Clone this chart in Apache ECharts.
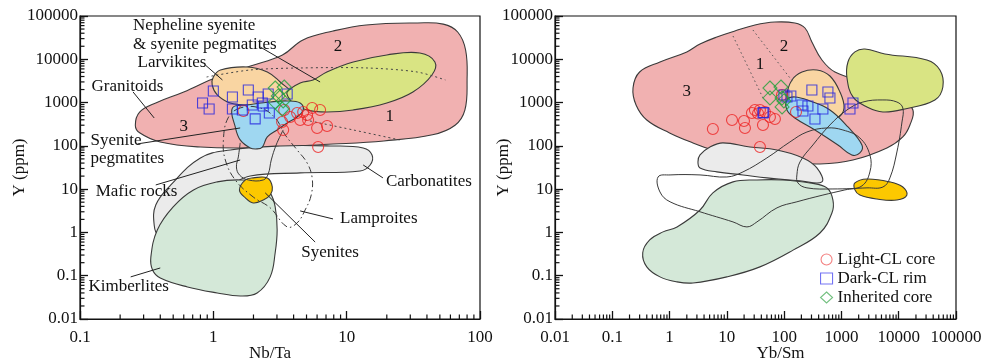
<!DOCTYPE html>
<html><head><meta charset="utf-8">
<script src="https://cdn.jsdelivr.net/npm/echarts@6/dist/echarts.min.js"></script>
<style>html,body{margin:0;padding:0;background:#fff}#c{width:998px;height:363px}</style>
</head><body><div id="c"></div>
<script>
// ---------------- Left panel (Nb/Ta vs Y) ----------------
const lightCoreL = [[1.68,640],[3.40,675],[3.77,465],[3.28,356],[4.25,575],[4.72,607],[5.51,750],[6.32,675],[4.48,397],[5.14,397],[5.05,518],[6.0,259],[7.13,288],[3.34,233],[6.11,94]];
const darkRimL = [[1.0,1850],[0.83,980],[0.93,710],[1.39,1350],[1.39,710],[1.83,1950],[1.65,675],[1.96,880],[2.17,1350],[2.37,835],[2.58,1580],[2.63,575],[2.06,420],[3.58,1580],[2.33,980]];
const inheritedL = [[2.91,2170],[3.40,2290],[3.07,1420],[2.91,1030],[3.34,1090],[3.28,710]];

const granitoidFieldL = [[0.26,300],[0.28,600],[0.37,980],[0.60,1760],[1.07,3900],[1.9,7000],[3.3,12600],[4.7,28000],[7.9,45000],[14,62000],[34,69000],[53,65000],[68,42700],[78,16400],[80,3300],[77,670],[65,300],[44,180],[19,130],[7.9,110],[1.9,90],[0.8,94],[0.40,123],[0.28,200]];
const carbonatiteFieldL = [[0.80,52.6],[1.34,80.4],[3.17,99.5],[7.5,99.5],[13.3,89.5],[15.5,61.6],[15.0,36.2],[12.6,26.3],[4.48,23.7],[1.89,20.2],[1.34,12.5],[0.80,5.6],[0.52,2.16],[0.44,0.97],[0.39,0.83],[0.36,1.49],[0.37,4.3],[0.48,12.5]];
const kimberliteFieldL = [[1.59,16.3],[1.07,14.7],[0.71,9.6],[0.50,3.9],[0.38,1.14],[0.34,0.27],[0.35,0.136],[0.40,0.089],[0.64,0.055],[1.07,0.040],[1.59,0.034],[2.13,0.040],[2.67,0.094],[2.91,0.34],[3.01,1.14],[2.91,3.9],[2.67,8.2],[2.25,13.9]];
const syeniteFieldL = [[1.57,9.6],[1.74,16.3],[1.99,18.2],[2.54,18.2],[2.77,11.2],[2.67,7.3],[2.37,5.6],[1.99,4.8],[1.74,6.3]];
const pegmatiteFieldL = [[1.39,750],[1.80,880],[2.67,1030],[3.58,1090],[4.48,980],[4.72,675],[4.25,465],[3.58,338],[3.01,233],[2.54,161],[2.33,94],[2.13,85],[1.89,89.5],[1.59,137],[1.46,273]];
const larvikiteFieldL = [[1.0,3900],[1.13,5660],[1.80,6640],[2.54,5090],[3.17,2990],[3.97,1500],[3.58,980],[1.99,880],[1.34,980],[1.07,1500],[0.98,2550]];
const nephelineFieldL = [[3.58,1760],[4.48,2840],[5.6,3330],[7.1,5090],[11.2,8660],[20,12600],[35.4,14000],[45.9,8660],[43.6,4340],[31.4,1760],[20,980],[11.2,675],[7.1,607],[5.05,675],[3.97,980],[3.64,1350]];
const dotUpperL = [[0.89,3900],[1.89,5660],[4.48,6300],[14.2,6300],[33.7,5090],[55,3330]];
const dotLowerL = [[4.88,397],[11.2,233],[25,137]];
const lamproiteLoopL = [[1.59,750],[1.29,441],[1.19,137],[1.23,47.2],[1.46,16.3],[1.99,6.6],[2.67,3.7],[3.58,1.34],[4.25,1.66],[4.88,3.3],[5.42,7.3],[5.51,18.2],[5.05,40.3],[4.25,80.4],[3.46,179],[2.91,441],[2.25,750]];
const syeniteOutlineL = [[1.59,117],[1.54,55.5],[1.49,32.6],[1.57,21.3],[1.83,16.3],[2.37,16.3],[2.58,22.5],[2.72,47.2],[2.96,105],[3.34,233]];
const leadersL = [
  [[2.25,19200],[6.32,2990]],
  [[0.87,7390],[1.17,3330]],
  [[0.25,1760],[0.36,441]],
  [[0.27,111],[1.59,259]],
  [[0.37,12.5],[1.59,47.2]],
  [[13.3,36.2],[18.7,18.2]],
  [[4.48,3.14],[7.9,2.05]],
  [[2.45,8.2],[5.8,0.60]],
  [[0.24,0.094],[0.40,0.151]]
];
const labelsL = [
  ['Nepheline syenite',0.25,58700],['& syenite pegmatites',0.25,22500],['Larvikites',0.27,8220],
  ['Granitoids',0.122,2290],['Syenite',0.12,130],['pegmatites',0.12,49.8],['Mafic rocks',0.131,8.6],
  ['Carbonatites',19.7,14.7],['Lamproites',8.93,2.05],['Syenites',4.56,0.336],['Kimberlites',0.116,0.055]
];
const numbersL = [['2',8.6,19200],['1',21,465],['3',0.60,273]];

// ---------------- Right panel (Yb/Sm vs Y) ----------------
const lightCoreR = [[5.7,246],[12.3,397],[19.9,376],[20.7,259],[30.9,675],[37.8,675],[46.2,607],[56.5,465],[69,418],[42.7,304],[37.8,94],[91.6,1500],[161,607],[27.4,575],[35,560]];
const darkRimR = [[42.7,575],[99,1500],[131,1420],[305,1950],[581,1760],[630,1280],[205,880],[260,835],[213,640],[475,711],[345,418],[1590,980],[1410,711],[44,590],[112,1350]];
const inheritedR = [[56.5,2170],[88,2290],[56.5,1280],[92,1280],[92,791],[99,1090]];

const granitoidFieldR = [[0.23,2170],[0.30,5090],[0.68,8660],[2.0,14800],[3.4,22500],[6.7,32700],[13.8,45000],[31,62000],[69,72700],[154,69000],[231,52800],[305,25100],[457,9640],[771,5090],[2790,2840],[10500,1420],[17700,675],[15700,304],[11800,161],[6220,89.5],[1590,47.2],[422,38.2],[112,42.5],[28.5,52.6],[5.7,80.4],[2.56,117],[1.0,199],[0.40,396],[0.26,880]];
const nephelineFieldR = [[1300,8660],[1720,14800],[2570,17300],[5740,13300],[31000,9640],[52400,5660],[59000,2290],[42800,1150],[12800,711],[5300,607],[2790,791],[1590,1350],[1250,3700]];
const larvikiteFieldR = [[112,1500],[137,3330],[205,5090],[373,5660],[630,4110],[942,1760],[1110,750],[869,441],[581,396],[282,675],[126,980]];
const pegmatiteFieldR = [[112,1150],[154,1350],[282,1090],[630,675],[1300,273],[2280,105],[2100,68.6],[1520,61.6],[869,105],[345,233],[154,441],[112,675]];
const carbonatiteFieldR = [[3.13,42.5],[3.4,61.6],[5.07,94],[8.55,117],[25.3,94],[75,80.4],[213,52.6],[373,30.9],[457,14.7],[189,15.5],[50,18.2],[19.1,21.3],[6.7,25],[3.4,30.9]];
const kimberliteFieldR = [[33.5,16.3],[12.8,14.7],[5.7,8.2],[3.4,3.3],[1.35,1.34],[0.77,1.03],[0.45,0.67],[0.34,0.34],[0.40,0.16],[0.68,0.094],[1.35,0.072],[2.56,0.068],[10,0.094],[37.8,0.16],[143,0.39],[422,0.97],[682,2.8],[711,5.6],[558,10.7],[282,13.9],[95,16.3]];
const syeniteFieldR = [[1720,13.9],[2790,17.2],[7020,14.7],[11800,11.2],[13900,7.3],[9300,5.6],[4170,5.9],[2100,7.3],[1720,9.6]];
const loopAR = [[0.63,19.1],[0.68,8.6],[1.02,5.1],[3.4,3.0],[12.8,1.75],[22.4,1.34],[33.5,1.75],[75,3.7],[167,5.1],[475,7.3],[1150,9.6],[2280,11.9],[3140,25],[3140,61.6],[2100,152],[1060,233],[558,259],[250,209],[126,123],[50,52.6],[19.1,25],[10,19.1],[3.4,21.3],[1.02,21.3]];
const loopBR = [[167,21.3],[174,13.9],[250,10.7],[711,10.1],[2790,10.7],[5300,11.2],[7020,18.2],[9300,72.3],[11400,356],[11800,750],[9300,1030],[5300,1150],[2370,1030],[1250,675],[630,304],[318,105],[189,42.5]];
const dotLinesR = [[[12.8,34500],[42.7,1280]],[[28.5,47500],[143,2990]]];
const numbersR = [['3',2.0,1760],['1',37.8,7390],['2',99,19200]];

// ---------------- Axes ----------------
const xRangeL = [0.1, 100], xRangeR = [0.01, 100000], yRange = [0.01, 100000];
const seriesNames = ['Light-CL core', 'Dark-CL rim', 'Inherited core'];

const FONT = '"Liberation Serif","Times New Roman",serif';
const STROKE = '#3a3a3a';
const fmt = v => String(+(+v).toPrecision(6));

function minorTickValues(min, max) {
  const out = [];
  for (let e = Math.round(Math.log10(min)); e < Math.round(Math.log10(max)); e++)
    for (let m = 2; m <= 9; m++) out.push(+(m * Math.pow(10, e)).toPrecision(3));
  return out;
}

function xAxisCfg(g, r, name, pad) {
  return {type:'log', logBase:10, gridIndex:g, min:r[0], max:r[1], name, nameLocation:'middle', nameGap:26, nameMoveOverlap:false, z:10,
    nameTextStyle:{fontFamily:FONT, fontSize:17, color:'#111', padding:pad},
    axisLine:{show:true, onZero:false, lineStyle:{color:'#111', width:1.2}},
    axisTick:{show:true, inside:true, length:8, lineStyle:{color:'#111', width:1.3}},
    axisLabel:{fontFamily:FONT, fontSize:17, color:'#111', margin:10, formatter:fmt},
    splitLine:{show:false}};
}
function yAxisCfg(g, gap) {
  return {type:'log', logBase:10, gridIndex:g, min:yRange[0], max:yRange[1], name:'Y (ppm)', nameLocation:'middle', nameGap:gap, nameMoveOverlap:false, z:10,
    nameTextStyle:{fontFamily:FONT, fontSize:17, color:'#111'},
    axisLine:{show:true, onZero:false, lineStyle:{color:'#111', width:1.2}},
    axisTick:{show:true, inside:true, length:8, lineStyle:{color:'#111', width:1.3}},
    axisLabel:{fontFamily:FONT, fontSize:17, color:'#111', margin:2, formatter:fmt},
    splitLine:{show:false}};
}

function poly(g, pts, fill, z) {
  return {type:'custom', xAxisIndex:g, yAxisIndex:g, silent:true, clip:false, z:z, data:[pts[0]],
    renderItem:(p, api) => ({type:'polygon', shape:{points:pts.map(q => api.coord(q)), smooth:0.4},
      style:{fill:fill, stroke:STROKE, lineWidth:1.1}})};
}
function loop(g, pts, dash, z) {
  return {type:'custom', xAxisIndex:g, yAxisIndex:g, silent:true, clip:false, z:z, data:[pts[0]],
    renderItem:(p, api) => ({type:'polygon', shape:{points:pts.map(q => api.coord(q)), smooth:0.4},
      style:{fill:'none', stroke:STROKE, lineWidth:1, lineDash:dash}})};
}
function pline(g, pts, dash, color, smooth, z) {
  return {type:'custom', xAxisIndex:g, yAxisIndex:g, silent:true, clip:false, z:z, data:[pts[0]],
    renderItem:(p, api) => ({type:'polyline', shape:{points:pts.map(q => api.coord(q)), smooth:smooth},
      style:{fill:'none', stroke:color, lineWidth:1, lineDash:dash}})};
}
function segs(g, arr, dash, color, z) {
  return {type:'custom', xAxisIndex:g, yAxisIndex:g, silent:true, clip:false, z:z, data:arr.map(s => s[0]),
    renderItem:(p, api) => {
      const s = arr[p.dataIndex]; const a = api.coord(s[0]), b = api.coord(s[1]);
      return {type:'line', shape:{x1:a[0], y1:a[1], x2:b[0], y2:b[1]}, style:{stroke:color, lineWidth:1, lineDash:dash}};
    }};
}
function texts(g, arr, align, z) {
  return {type:'custom', xAxisIndex:g, yAxisIndex:g, silent:true, clip:false, z:z, data:arr.map(a => [a[1], a[2]]),
    renderItem:(p, api) => {
      const c = api.coord([arr[p.dataIndex][1], arr[p.dataIndex][2]]);
      return {type:'text', x:c[0], y:c[1], style:{text:arr[p.dataIndex][0], font:'17px ' + FONT, fill:'#111',
        align:align, verticalAlign:'middle', textAlign:align, textVerticalAlign:'middle'}};
    }};
}
function minorX(g, xr) {
  const vals = minorTickValues(xr[0], xr[1]);
  return {type:'custom', xAxisIndex:g, yAxisIndex:g, silent:true, clip:false, z:12,
    data:vals.map(v => [v, yRange[0]]),
    renderItem:(p, api) => { const c = api.coord([vals[p.dataIndex], yRange[0]]);
      return {type:'line', shape:{x1:c[0], y1:c[1], x2:c[0], y2:c[1]-4.5}, style:{stroke:'#111', lineWidth:1.2}}; }};
}
function minorY(g, xr) {
  const vals = minorTickValues(yRange[0], yRange[1]);
  return {type:'custom', xAxisIndex:g, yAxisIndex:g, silent:true, clip:false, z:12,
    data:vals.map(v => [xr[0], v]),
    renderItem:(p, api) => { const c = api.coord([xr[0], vals[p.dataIndex]]);
      return {type:'line', shape:{x1:c[0], y1:c[1], x2:c[0]+4.5, y2:c[1]}, style:{stroke:'#111', lineWidth:1.2}}; }};
}
function scatter(g, name, data, symbol, size, color, z) {
  return {type:'scatter', name, xAxisIndex:g, yAxisIndex:g, data, symbol, symbolSize:size, z:z,
    itemStyle:{color:'rgba(255,255,255,0)', borderColor:color, borderWidth:1.1}};
}

const C = {pink:'#f1b1b1', gray:'#ebebeb', green:'#d4e8d8', yellow:'#fcc800', blue:'#9fd7f1', tan:'#f9d5a2', yg:'#d9e483'};
const RED = '#ee2222', BLUE = '#2424e0', GREEN = '#22a03a';

const series = [
  poly(0, granitoidFieldL, C.pink, 1),
  poly(0, carbonatiteFieldL, C.gray, 1),
  poly(0, kimberliteFieldL, C.green, 1),
  poly(0, larvikiteFieldL, C.tan, 1),
  poly(0, nephelineFieldL, C.yg, 1),
  poly(0, pegmatiteFieldL, C.blue, 1),
  poly(0, syeniteFieldL, C.yellow, 1),
  pline(0, dotUpperL, [2,3], '#444', 0.3, 3),
  pline(0, dotLowerL, [2,3], '#444', 0.3, 3),
  loop(0, lamproiteLoopL, [7,3,1.5,3], 3),
  pline(0, syeniteOutlineL, null, STROKE, 0.4, 3),
  segs(0, leadersL, null, '#222', 3),
  texts(0, labelsL, 'left', 4),
  texts(0, numbersL, 'center', 4),
  poly(1, granitoidFieldR, C.pink, 1),
  poly(1, carbonatiteFieldR, C.gray, 1),
  poly(1, kimberliteFieldR, C.green, 1),
  poly(1, nephelineFieldR, C.yg, 1),
  poly(1, larvikiteFieldR, C.tan, 1),
  poly(1, pegmatiteFieldR, C.blue, 1),
  poly(1, syeniteFieldR, C.yellow, 1),
  loop(1, loopAR, null, 3),
  loop(1, loopBR, null, 3),
  segs(1, dotLinesR, [1.5,3], '#555', 3),
  texts(1, numbersR, 'center', 4),
  minorX(0, xRangeL), minorY(0, xRangeL), minorX(1, xRangeR), minorY(1, xRangeR),
  scatter(0, seriesNames[0], lightCoreL, 'circle', 11, RED, 5),
  scatter(0, seriesNames[1], darkRimL, 'rect', 10, BLUE, 5),
  scatter(0, seriesNames[2], inheritedL, 'diamond', 14, GREEN, 5),
  scatter(1, seriesNames[0], lightCoreR, 'circle', 11, RED, 5),
  scatter(1, seriesNames[1], darkRimR, 'rect', 10, BLUE, 5),
  scatter(1, seriesNames[2], inheritedR, 'diamond', 14, GREEN, 5)
];

const legendColors = ['#f06060', '#5050f0', '#50b060'];
const legendIcons = ['circle', 'rect', 'diamond'];

const chart = echarts.init(document.getElementById('c'), null, {renderer:'canvas'});
chart.setOption({
  animation:false,
  backgroundColor:'#fff',
  grid:[
    {left:80, top:16, width:400, height:303, outerBoundsMode:'none', containLabel:false, show:true, borderColor:'#111', borderWidth:1.2, backgroundColor:'transparent'},
    {left:555, top:16, width:401, height:303, outerBoundsMode:'none', containLabel:false, show:true, borderColor:'#111', borderWidth:1.2, backgroundColor:'transparent'}
  ],
  xAxis:[xAxisCfg(0, xRangeL, 'Nb/Ta', [0,20,0,0]), xAxisCfg(1, xRangeR, 'Yb/Sm', [0,0,0,50])],
  yAxis:[yAxisCfg(0, 52), yAxisCfg(1, 43)],
  legend:{
    data:seriesNames.map((n, i) => ({name:n, icon:legendIcons[i],
      itemStyle:{color:'rgba(255,255,255,0)', borderColor:legendColors[i], borderWidth:1.1}})),
    orient:'vertical', left:815, top:246, itemWidth:12, itemHeight:11, itemGap:2,
    textStyle:{fontFamily:FONT, fontSize:17, color:'#111'}},
  series
});
</script></body></html>
